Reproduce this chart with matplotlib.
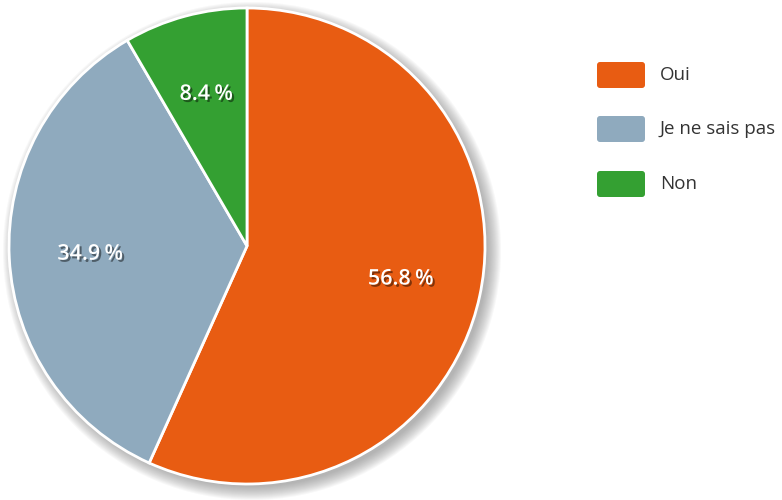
import matplotlib
matplotlib.use('Agg')
import matplotlib.pyplot as plt
import matplotlib.patheffects as pe
from matplotlib.patches import Circle, FancyBboxPatch

plt.rcParams['font.family'] = ['Open Sans', 'DejaVu Sans']

labels = ['Oui', 'Je ne sais pas', 'Non']
values = [56.8, 34.9, 8.4]
colors = ['#E85C12', '#8FAABE', '#34A032']

W, H = 782, 500
fig = plt.figure(figsize=(W / 100, H / 100), dpi=100)
ax = fig.add_axes([0, 0, 1, 1])
ax.set_aspect('equal')
ax.axis('off')

cx, cy, r = 247, 254, 238

# soft drop shadow behind the pie
for k in range(14):
    ax.add_patch(Circle((cx + 5, cy - 5), r + 11 - k, color='#777777',
                        alpha=0.05, lw=0, zorder=0))

# print the stated values, not the renormalised fractions
vals = iter(values)
wedges, texts, autotexts = ax.pie(
    values, colors=colors, startangle=90, counterclock=False,
    center=(cx, cy), radius=r, pctdistance=0.66,
    autopct=lambda p: f'{next(vals)}\u2009%',
    wedgeprops=dict(edgecolor='white', linewidth=2),
    textprops=dict(color='white', fontsize=15.5, fontweight='semibold'))
ax.set_xlim(0, W)
ax.set_ylim(0, H)

for t in autotexts:
    t.set_path_effects([
        pe.SimplePatchShadow(offset=(1.5, -1.5), shadow_rgbFace='#000000', alpha=0.45),
        pe.Normal()])

# legend drawn as rounded swatches
row_y = [425, 371, 316]
for lab, col, y in zip(labels, colors, row_y):
    ax.add_patch(FancyBboxPatch((597, y - 13), 48, 26,
                                boxstyle='round,pad=0,rounding_size=3',
                                fc=col, ec='none'))
    ax.text(660, y, lab, fontsize=13.5, color='#333333', va='center', ha='left')

fig.savefig('out.png', dpi=100, facecolor='white')
